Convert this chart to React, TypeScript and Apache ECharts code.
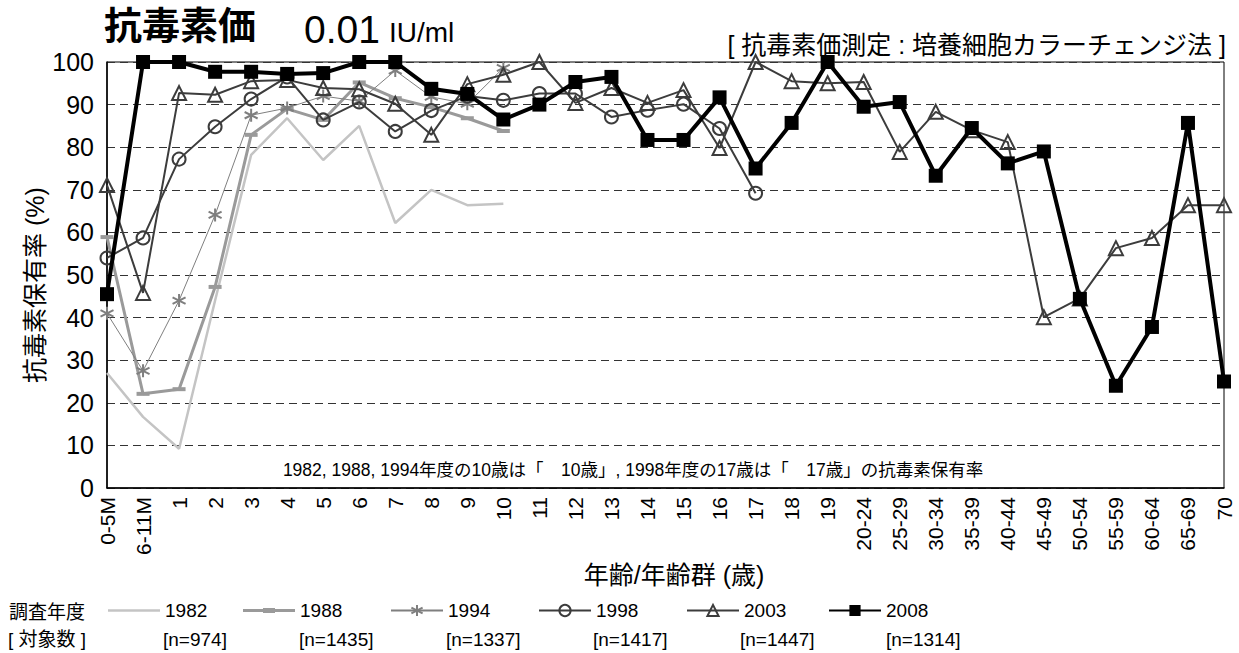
import React, { useEffect, useRef } from "react";
import * as echarts from "echarts";

const categories = [
  "0-5M", "6-11M", "1", "2", "3", "4", "5", "6", "7", "8", "9", "10",
  "11", "12", "13", "14", "15", "16", "17", "18", "19",
  "20-24", "25-29", "30-34", "35-39", "40-44", "45-49", "50-54", "55-59", "60-64", "65-69", "70",
];

const s1982 = [27, 16.7, 9.2, 44, 78.2, 86.8, 77, 85, 62.2, 70, 66.4, 66.7];
const s1988 = [58.9, 22.1, 23.2, 47.2, 82.9, 89, 86.4, 95.2, 91.5, 89.4, 86.8, 83.8];
const s1994 = [41, 27.5, 44, 64.1, 87.5, 89.2, 92, 90.8, 98, 91.8, 90.2, 98.6];
const s1998 = [54, 58.7, 77.2, 84.8, 91.3, 96.5, 86.4, 90.6, 83.7, 88.6, 92, 91, 92.6, 92.6, 87.1, 88.7, 90.1, 84.4, 69.2];
const s2003 = [71.1, 45.8, 92.7, 92.3, 95.5, 95.8, 93.9, 93.6, 90.2, 82.9, 94.8, 97, 100, 90.4, 93.9, 90.4, 93.4, 79.8, 100, 95.5, 95, 95.3, 78.9, 88.3, 84, 81.2, 40.1, 44.5, 56.3, 58.7, 66.4, 66.4];
const s2008 = [45.5, 100, 100, 97.7, 97.7, 97.2, 97.4, 100, 100, 93.7, 92.5, 86.5, 90, 95.3, 96.5, 81.7, 81.7, 91.7, 75, 85.7, 100, 89.5, 90.6, 73.3, 84.5, 76.2, 79, 44.4, 24, 37.8, 85.7, 25];

const seriesNames = ["1982", "1988", "1994", "1998", "2003", "2008"];
const sampleSizes = ["[n=974]", "[n=1435]", "[n=1337]", "[n=1417]", "[n=1447]", "[n=1314]"];
const yTicks = [0, 100, 10];

const FONT = "'Liberation Sans', Arial, 'Noto Sans CJK JP', sans-serif";
const ASTERISK = "path://M0,-1L0,1M-0.87,-0.5L0.87,0.5M-0.87,0.5L0.87,-0.5";
const ICON_PLAIN = "path://M0,0H52V2.5H0Z";
const ICON_DASH = "path://M0,1H52V4H0ZM20,0H32V5H20Z";

export default function App() {
  const ref = useRef<HTMLDivElement>(null);
  useEffect(() => {
    document.body.style.margin = "0";
    const chart = echarts.init(ref.current!, null, { renderer: "svg" });
    const pad = (arr: number[]) => categories.map((_, i) => (i < arr.length ? arr[i] : null));
    const nX = [163, 299, 446, 593, 740, 886];
    const legendLeft = [108, 243, 390, 538, 686, 828];
    const legendIcons: (string | undefined)[] = [ICON_PLAIN, ICON_DASH, undefined, undefined, undefined, undefined];
    chart.setOption({
      animation: false,
      backgroundColor: "#fff",
      textStyle: { fontFamily: FONT },
      grid: { left: 107, right: 15, top: 62, bottom: 165, show: true, borderColor: "#000", borderWidth: 1, backgroundColor: "transparent" },
      xAxis: {
        type: "category",
        data: categories,
        boundaryGap: false,
        axisLine: { lineStyle: { color: "#000", width: 1.5 } },
        axisTick: { show: false },
        axisLabel: { rotate: 90, fontSize: 21, color: "#000", margin: 9, interval: 0, fontFamily: FONT },
      },
      yAxis: {
        type: "value",
        min: yTicks[0],
        max: yTicks[1],
        interval: yTicks[2],
        axisLine: { show: true, lineStyle: { color: "#000", width: 1.5 } },
        axisTick: { show: false },
        axisLabel: { fontSize: 25, color: "#000", margin: 13, fontFamily: FONT },
        splitLine: { show: true, lineStyle: { color: "#333", type: [8, 5], width: 1 } },
      },
      legend: seriesNames.map((name, i) => ({
        left: legendLeft[i],
        top: 601,
        itemWidth: 52,
        itemHeight: 14,
        padding: 0,
        textStyle: { fontSize: 19, color: "#000", fontFamily: FONT },
        data: [legendIcons[i] ? { name, icon: legendIcons[i] } : name],
      })),
      graphic: [
        { type: "text", left: 104, top: 7, style: { text: "抗毒素価", font: `bold 38px ${FONT}`, fill: "#000" } },
        { type: "text", left: 304, top: 10, style: { text: "0.01", font: `39px ${FONT}`, fill: "#000" } },
        { type: "text", left: 389, top: 18, style: { text: "IU/ml", font: `28px ${FONT}`, fill: "#000" } },
        { type: "text", right: 13, top: 32, style: { text: "[ 抗毒素価測定 : 培養細胞カラーチェンジ法 ]", font: `25px ${FONT}`, fill: "#000" } },
        { type: "text", x: 633, y: 470, style: { text: "1982, 1988, 1994年度の10歳は「　10歳」, 1998年度の17歳は「　17歳」の抗毒素保有率", font: `17.5px ${FONT}`, fill: "#000", textAlign: "center", textVerticalAlign: "middle" } },
        { type: "text", x: 674, y: 575, style: { text: "年齢/年齢群 (歳)", font: `25px ${FONT}`, fill: "#000", textAlign: "center", textVerticalAlign: "middle" } },
        { type: "text", x: 35, y: 285, rotation: Math.PI / 2, style: { text: "抗毒素保有率 (%)", font: `25px ${FONT}`, fill: "#000", textAlign: "center", textVerticalAlign: "middle" } },
        { type: "text", x: 9, y: 612, style: { text: "調査年度", font: `19px ${FONT}`, fill: "#000", textVerticalAlign: "middle" } },
        { type: "text", x: 8, y: 639, style: { text: "[ 対象数 ]", font: `19px ${FONT}`, fill: "#000", textVerticalAlign: "middle" } },
        ...sampleSizes.map((t, i) => ({ type: "text", x: nX[i], y: 639, style: { text: t, font: `19px ${FONT}`, fill: "#000", textVerticalAlign: "middle" } })),
      ],
      series: [
        {
          name: "1982", type: "line", data: pad(s1982), symbol: "none", z: 1,
          lineStyle: { color: "#c4c4c4", width: 2.5 }, itemStyle: { color: "#c4c4c4" },
        },
        {
          name: "1988", type: "line", data: pad(s1988), symbol: "rect", symbolSize: [13, 4], z: 2,
          lineStyle: { color: "#9a9a9a", width: 3 }, itemStyle: { color: "#9a9a9a" },
        },
        {
          name: "1994", type: "line", data: pad(s1994), symbol: ASTERISK, symbolSize: 13, z: 3,
          lineStyle: { color: "#7f7f7f", width: 1 }, itemStyle: { color: "none", borderColor: "#7f7f7f", borderWidth: 2 },
        },
        {
          name: "1998", type: "line", data: pad(s1998), symbol: "circle", symbolSize: 13, z: 4,
          lineStyle: { color: "#3c3c3c", width: 2 }, itemStyle: { color: "none", borderColor: "#3c3c3c", borderWidth: 2 },
        },
        {
          name: "2003", type: "line", data: pad(s2003), symbol: "triangle", symbolSize: 14, z: 5,
          lineStyle: { color: "#3c3c3c", width: 2 }, itemStyle: { color: "none", borderColor: "#3c3c3c", borderWidth: 2 },
        },
        {
          name: "2008", type: "line", data: pad(s2008), symbol: "rect", symbolSize: 14, z: 6,
          lineStyle: { color: "#000", width: 4 }, itemStyle: { color: "#000" },
        },
      ],
    });
    return () => chart.dispose();
  }, []);
  return <div ref={ref} style={{ position: "fixed", left: 0, top: 0, width: 1239, height: 653 }} />;
}
